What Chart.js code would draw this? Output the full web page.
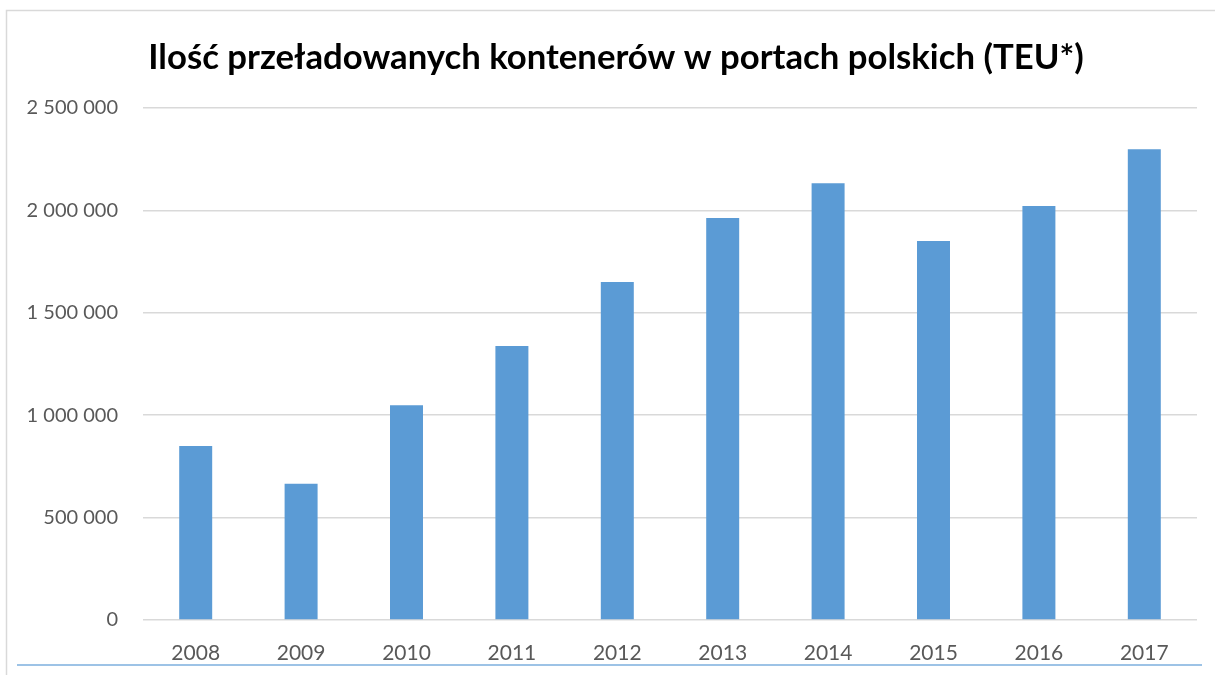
<!DOCTYPE html>
<html>
<head>
<meta charset="utf-8">
<script src="https://cdn.jsdelivr.net/npm/chart.js@4.4.1/dist/chart.umd.min.js"></script>
<style>
html,body{margin:0;padding:0;background:#fff;}
#wrap{width:1215px;height:675px;position:relative;}
</style>
</head>
<body>
<div id="wrap"><canvas id="c" width="1215" height="675"></canvas></div>
<script>
const titleText = 'Ilość przeładowanych kontenerów w portach polskich (TEU*)';
const years = ['2008','2009','2010','2011','2012','2013','2014','2015','2016','2017'];
const teu = [850000, 665000, 1048000, 1338000, 1650000, 1963000, 2132000, 1851000, 2021000, 2298000];
const yTicks = [0, 500000, 1000000, 1500000, 2000000, 2500000];

const framePlugin = {
  id: 'frame',
  beforeDraw(chart) {
    const ctx = chart.ctx;
    ctx.save();
    ctx.fillStyle = '#ffffff';
    ctx.fillRect(0, 0, chart.width, chart.height);
    ctx.strokeStyle = '#d9d9d9';
    ctx.lineWidth = 1.5;
    ctx.beginPath();
    ctx.moveTo(6.5, 675);
    ctx.lineTo(6.5, 10.5);
    ctx.lineTo(1215, 10.5);
    ctx.stroke();
    ctx.fillStyle = '#000000';
    ctx.font = 'bold 34.7px Lato';
    ctx.textAlign = 'center';
    ctx.textBaseline = 'middle';
    ctx.fillText(titleText, 616, 58);
    ctx.restore();
  },
  afterDraw(chart) {
    const ctx = chart.ctx;
    ctx.save();
    ctx.strokeStyle = '#9dc3e6';
    ctx.lineWidth = 2;
    ctx.beginPath();
    ctx.moveTo(17, 665);
    ctx.lineTo(1202, 665);
    ctx.stroke();
    ctx.restore();
  }
};

function fmt(v) {
  return String(v).replace(/\B(?=(\d{3})+(?!\d))/g, ' ');
}

new Chart(document.getElementById('c'), {
  type: 'bar',
  data: {
    labels: years,
    datasets: [{
      data: teu,
      backgroundColor: '#5b9bd5',
      borderWidth: 0,
      categoryPercentage: 1,
      barPercentage: 0.313
    }]
  },
  options: {
    responsive: false,
    animation: false,
    devicePixelRatio: 1,
    layout: { padding: { left: 0, right: 18, top: 108, bottom: 0 } },
    plugins: {
      legend: { display: false },
      tooltip: { enabled: false },
      title: { display: false }
    },
    scales: {
      x: {
        grid: { display: false },
        border: { display: false },
        ticks: {
          color: '#595959',
          font: { family: 'Lato', size: 21 },
          padding: 13,
          maxRotation: 0
        },
        afterFit(s) { s.height = 55; }
      },
      y: {
        min: 0,
        max: 2500000,
        afterBuildTicks(s) { s.ticks = yTicks.map(v => ({ value: v })); },
        grid: { color: '#d9d9d9', lineWidth: 1.5, drawTicks: false },
        border: { display: false },
        ticks: {
          color: '#595959',
          font: { family: 'Lato', size: 20 },
          padding: 25,
          callback: v => fmt(v)
        },
        afterFit(s) { s.width = 143; }
      }
    }
  },
  plugins: [framePlugin]
});
</script>
</body>
</html>
